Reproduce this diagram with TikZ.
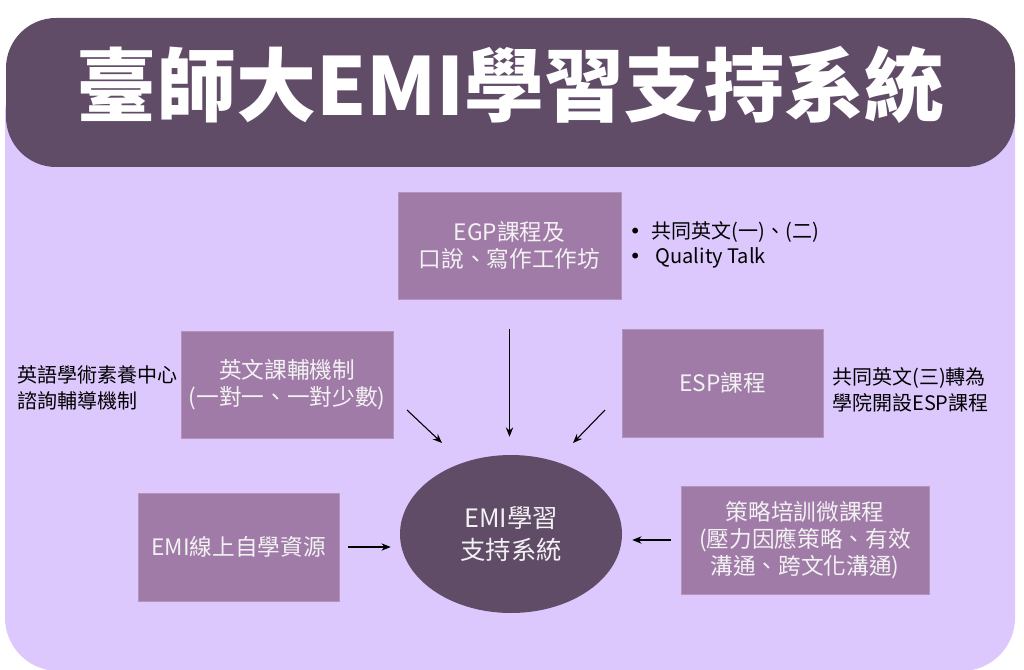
\documentclass[tikz,border=0pt]{standalone}
\usepackage{fontspec}
\setmainfont{Noto Sans CJK TC}
\newfontfamily\dotfont{DejaVu Sans}
\usepackage{tikz}
\usetikzlibrary{arrows.meta,shapes.geometric,positioning}
\definecolor{pagelilac}{RGB}{220,200,253}
\definecolor{deepplum}{RGB}{97,76,104}
\definecolor{boxmauve}{RGB}{160,123,168}
\newcommand{\notedot}{{\dotfont •}}

\begin{document}
\begin{tikzpicture}[
  x=0.75pt, y=-0.75pt,
  banner/.style={rectangle, rounded corners=37.5pt, fill=deepplum, minimum width=756.75pt, minimum height=111.75pt},
  title/.style={text=white, font=\fontsize{60}{60}\selectfont\bfseries, inner sep=0pt},
  part/.style={rectangle, fill=boxmauve, draw=boxmauve!80!white, text=white!95!black, font=\fontsize{17}{20.5}\selectfont, align=center, inner sep=2pt},
  hub/.style={ellipse, fill=deepplum, text=white!95!black, font=\fontsize{19}{24}\selectfont, align=center, minimum width=166.5pt, minimum height=118.5pt, inner sep=0pt},
  note/.style={anchor=west, font=\fontsize{15}{19}\selectfont, align=left, inner sep=0pt},
  >={Stealth[length=7pt,width=5.5pt]}
]
  \useasboundingbox (0,0) rectangle (1024,670);
  \fill[pagelilac, rounded corners=40pt] (5,60) -- (5,671) -- (1015,671) -- (1015,60) -- cycle;
  \node[banner] (banner) at (510.5,92.5) {};
  \node[title] (title) at (510.5,85) {臺師大EMI學習支持系統};

  \node[part, minimum width=167pt, minimum height=80pt] (egp) at (509.5,245.5) {EGP課程及\\口說、寫作工作坊};
  \node[part, minimum width=159pt, minimum height=80pt] (tutor) at (287,384.5) {英文課輔機制\\(一對一、一對少數)};
  \node[part, minimum width=151pt, minimum height=81pt] (esp) at (722.5,383) {ESP課程};
  \node[part, minimum width=151pt, minimum height=81pt] (online) at (238.5,547) {EMI線上自學資源};
  \node[part, minimum width=186pt, minimum height=81pt] (strategy) at (805,540) {策略培訓微課程\\(壓力因應策略、有效\\溝通、跨文化溝通)};
  \node[hub] (hub) at (511,534) {EMI學習\\支持系統};

  \node[note] (egp note) at (629,245) {\notedot\hspace{8pt}共同英文(一)、(二)\\\notedot\hspace{11pt}Quality Talk};
  \node[note] (tutor note) at (17,388) {英語學術素養中心\\諮詢輔導機制};
  \node[note] (esp note) at (832,390) {共同英文(三)轉為\\學院開設ESP課程};

  \coordinate (tutor tail) at (407,410);
  \coordinate (tutor head) at (442,443);
  \coordinate (esp tail) at (605,410);
  \coordinate (esp head) at (573,443);

  % Arrows into the hub
  \draw[->, thick, shorten <=22.5pt, shorten >=13.5pt] (egp) -- (egp |- hub.north);
  \draw[->, thick] (tutor tail) -- (tutor head);
  \draw[->, thick] (esp tail) -- (esp head);
  \draw[->, thick, shorten <=6.75pt, shorten >=6.75pt] (online) -- (online -| hub.west);
  \draw[->, thick, shorten <=7.5pt, shorten >=7.5pt] (strategy) -- (strategy -| hub.east);
\end{tikzpicture}
\end{document}
